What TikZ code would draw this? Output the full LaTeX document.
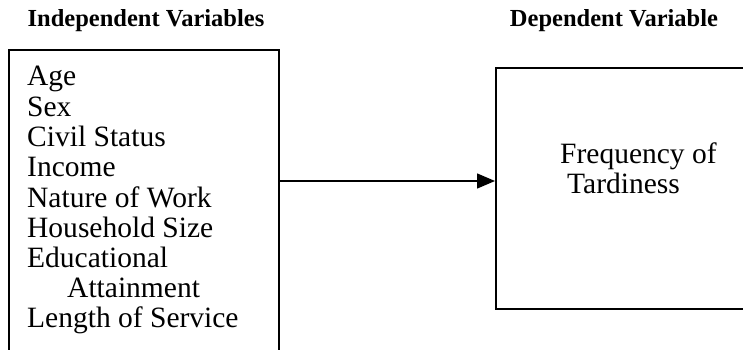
\documentclass[tikz,border=0pt]{standalone}
\usepackage{fontspec}
\setmainfont{Liberation Serif}
\usetikzlibrary{arrows.meta}
\begin{document}
\begin{tikzpicture}[x=1pt,y=-1pt,
  box/.style={draw, line width=1.8pt, rectangle, inner sep=0pt, anchor=north west},
  item/.style={anchor=base west, inner sep=0pt, font=\fontsize{29.5}{30}\selectfont},
  title/.style={anchor=base, inner sep=0pt, font=\bfseries\fontsize{24.5}{30}\selectfont},
  link/.style={line width=1.5pt, -{Triangle[length=18pt,width=15pt]}}]
\useasboundingbox (0,0) rectangle (743,350);
\clip (0,0) rectangle (743,350);
\node[title] (ti) at (146,27) {Independent Variables};
\node[title] (td) at (614,27) {Dependent Variable};
\node[box, minimum width=270pt, minimum height=320pt] (indep) at (8,49) {};
\node[box, minimum width=270pt, minimum height=241pt] (dep) at (495,67) {};
\node[item] (i1) at (27,86) {Age};
\node[item] (i2) at (27,116) {Sex};
\node[item] (i3) at (27,146) {Civil Status};
\node[item] (i4) at (27,176) {Income};
\node[item] (i5) at (27,207) {Nature of Work};
\node[item] (i6) at (27,237) {Household Size};
\node[item] (i7) at (27,267) {Educational};
\node[item] (i8) at (67,297) {Attainment};
\node[item] (i9) at (27,327) {Length of Service};
\node[item] (d1) at (560,163) {Frequency of};
\node[item] (d2) at (567,193) {Tardiness};
\coordinate (arr) at (0,181);
\draw[link] (indep.east |- arr) -- (dep.west |- arr);
\end{tikzpicture}
\end{document}
